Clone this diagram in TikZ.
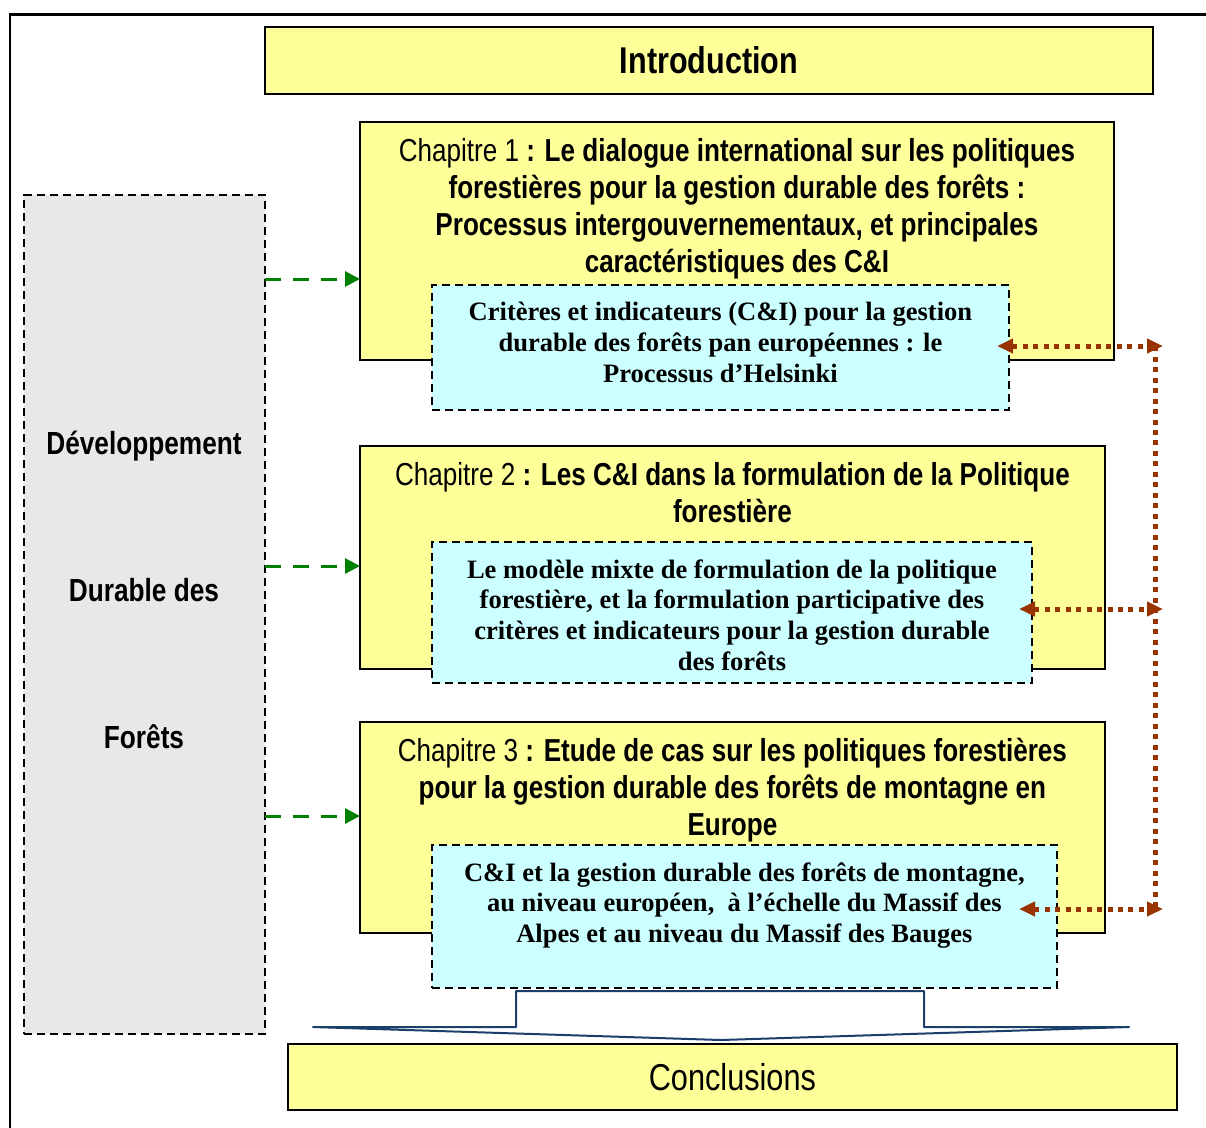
\documentclass[tikz,border=0pt]{standalone}
\usepackage{fontspec}
\setmainfont{Liberation Serif}
\newfontfamily\narrowsf[FakeStretch=0.82]{Liberation Sans}
\usetikzlibrary{positioning,arrows.meta}
\definecolor{paleyellow}{HTML}{FFFF99}
\definecolor{palecyan}{HTML}{CCFFFF}
\definecolor{palegrey}{HTML}{E8E8E8}
\definecolor{darkgreen}{rgb}{0.0, 0.5, 0.0}
\definecolor{rust}{HTML}{993300}
\definecolor{navyline}{HTML}{1B3F6B}

\tikzset{
  chapbox/.style={draw, line width=0.05cm, fill=paleyellow, inner sep=0pt, outer sep=0pt, anchor=north west},
  critbox/.style={draw, line width=0.04cm, dash pattern=on 0.16cm off 0.1cm, fill=palecyan, inner sep=0pt, outer sep=0pt, anchor=north west},
  chaptext/.style={font=\narrowsf\fontsize{18.1}{21}\selectfont, align=center, inner sep=0pt},
  crittext/.style={font=\bfseries\fontsize{15.1}{17.6}\selectfont, align=center, inner sep=0pt},
  sidetext/.style={font=\narrowsf\bfseries\fontsize{18.2}{21}\selectfont, text height=1.6ex, text depth=0.3ex, inner sep=0pt},
  feed/.style={-{Triangle[length=0.3cm,width=0.3cm]}, darkgreen, line width=0.06cm, dash pattern=on 0.32cm off 0.24cm},
  link/.style={{Triangle[length=0.32cm,width=0.28cm]}-{Triangle[length=0.32cm,width=0.28cm]}, rust, line width=0.1cm, dash pattern=on 0.1cm off 0.11cm},
  trail/.style={rust, line width=0.1cm, dash pattern=on 0.1cm off 0.11cm},
}

\begin{document}
\begin{tikzpicture}[x=0.02cm, y=-0.02cm]
    \useasboundingbox (0,0) rectangle (1206,1127);
    % Frame
    \draw[line width=0.06cm] (10,1140) -- (10,14) -- (1220,14);

    % Introduction and conclusions
    \node (intro) [chapbox, minimum width=17.76cm, minimum height=1.34cm,
      font=\narrowsf\bfseries\fontsize{21.2}{25}\selectfont] at (265,27) {Introduction};
    \node (concl) [chapbox, minimum width=17.78cm, minimum height=1.32cm,
      font=\narrowsf\fontsize{21.3}{25}\selectfont] at (288,1044) {Conclusions};

    % Side box
    \node (dev) [critbox, fill=palegrey, minimum width=4.82cm, minimum height=16.78cm] at (24,195) {};
    \node (dev1) [sidetext] at (144,449) {Développement};
    \node (dev2) [sidetext, below=2.94cm of dev1.center, anchor=center] {Durable des};
    \node (dev3) [sidetext, below=2.94cm of dev2.center, anchor=center] {Forêts};

    % Chapitre 1
    \node (ch1) [chapbox, minimum width=15.08cm, minimum height=4.76cm] at (360,122) {};
    \node (ch1txt) [chaptext, below=0.32cm of ch1.north] {{Chapitre 1} \textbf{: Le dialogue international sur les politiques}\\
      \textbf{forestières pour la gestion durable des forêts :}\\
      \textbf{Processus intergouvernementaux, et principales}\\
      \textbf{caractéristiques des C\&I}};
    \node (crit1) [critbox, minimum width=11.54cm, minimum height=2.5cm] at (432,285) {};
    \node (crit1txt) [crittext, below=0.34cm of crit1.north] {Critères et indicateurs (C\&I) pour la gestion\\
      durable des forêts pan européennes : le\\
      Processus d’Helsinki};

    % Chapitre 2
    \node (ch2) [chapbox, minimum width=14.9cm, minimum height=4.46cm] at (360,446) {};
    \node (ch2txt) [chaptext, below=0.32cm of ch2.north] {{Chapitre 2} \textbf{: Les C\&I dans la formulation de la Politique}\\
      \textbf{forestière}};
    \node (crit2) [critbox, minimum width=12cm, minimum height=2.82cm] at (432,542) {};
    \node (crit2txt) [crittext, below=0.34cm of crit2.north] {Le modèle mixte de formulation de la politique\\
      forestière, et la formulation participative des\\
      critères et indicateurs pour la gestion durable\\
      des forêts};

    % Chapitre 3
    \node (ch3) [chapbox, minimum width=14.9cm, minimum height=4.22cm] at (360,722) {};
    \node (ch3txt) [chaptext, below=0.32cm of ch3.north] {{Chapitre 3} \textbf{: Etude de cas sur les politiques forestières}\\
      \textbf{pour la gestion durable des forêts de montagne en}\\
      \textbf{Europe}};
    \node (crit3) [critbox, minimum width=12.5cm, minimum height=2.86cm] at (432,845) {};
    \node (crit3txt) [crittext, below=0.34cm of crit3.north] {C\&I et la gestion durable des forêts de montagne,\\
      au niveau européen,\ \ à l’échelle du Massif des\\
      Alpes et au niveau du Massif des Bauges};

    % Arrow down to the conclusions
    \draw[navyline, line width=0.04cm, fill=white, line join=round]
      (516,991) -- (924,991) -- (924,1027) -- (1129,1027) -- (721,1040)
      -- (313,1027) -- (516,1027) -- cycle;

    % Arrows from the side box
    \coordinate (g1) at (0,279);
    \coordinate (g2) at (0,566);
    \coordinate (g3) at (0,816);
    \draw[feed] (dev.east |- g1) -- (ch1.west |- g1);
    \draw[feed] (dev.east |- g2) -- (ch2.west |- g2);
    \draw[feed] (dev.east |- g3) -- (ch3.west |- g3);

    % Links between the case boxes
    \coordinate (h1) at (997,346);
    \coordinate (h2) at (1019,609);
    \coordinate (h3) at (1019,909);
    \coordinate (r1) at (1163,346);
    \coordinate (r2) at (1163,609);
    \coordinate (r3) at (1163,909);
    \coordinate (vtop) at (1155,346);
    \coordinate (vbot) at (1155,909);
    \draw[trail] (vtop) -- (vbot);
    \draw[link] (h1) -- (r1);
    \draw[link] (h2) -- (r2);
    \draw[link] (h3) -- (r3);
\end{tikzpicture}
\end{document}
